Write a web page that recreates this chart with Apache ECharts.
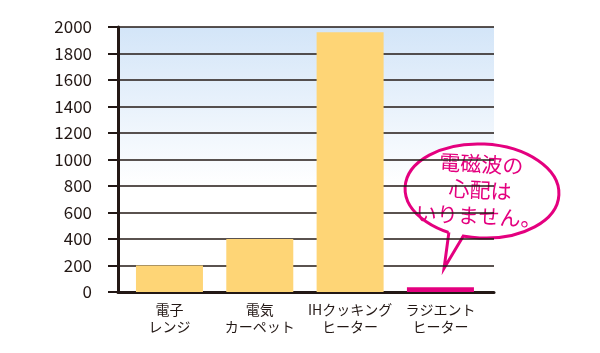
<!DOCTYPE html>
<html>
<head>
<meta charset="utf-8">
<script src="https://cdn.jsdelivr.net/npm/echarts@6/dist/echarts.min.js"></script>
<style>
  html, body { margin: 0; padding: 0; background: #fff; }
  #main { width: 600px; height: 353px; }
</style>
</head>
<body>
<div id="main"></div>
<script>
// データ
var categories = ['電子\nレンジ', '電気\nカーペット', 'IHクッキング\nヒーター', 'ラジエント\nヒーター'];
var values = [200, 400, 1960, 35];
var yTicks = [0, 200, 400, 600, 800, 1000, 1200, 1400, 1600, 1800, 2000];
var bubbleLines = ['電磁波の', '心配は', 'いりません。'];

var ink = '#231815';
var pink = '#e4007f';
var font = '"Noto Sans CJK JP", "Noto Sans", sans-serif';

var myChart = echarts.init(document.getElementById('main'));

var barData = values.map(function (v, i) {
    return {
        value: v,
        itemStyle: { color: i === values.length - 1 ? pink : '#fed576' }
    };
});

var option = {
    animation: false,
    grid: [
        {
            left: 118, right: 106, top: 27, bottom: 61,
            show: true, borderWidth: 0,
            backgroundColor: new echarts.graphic.LinearGradient(0, 0, 0, 1, [
                { offset: 0, color: '#d3e5f8' },
                { offset: 0.6, color: '#ffffff' },
                { offset: 1, color: '#ffffff' }
            ])
        },
        { left: 124.3, right: 114.4, top: 27, bottom: 61 }
    ],
    xAxis: [
        {
            gridIndex: 0, type: 'value', min: 0, max: 1,
            axisLine: { show: true, onZero: false, lineStyle: { color: ink, width: 3 } },
            axisTick: { show: false }, axisLabel: { show: false }, splitLine: { show: false }
        },
        {
            gridIndex: 1, type: 'category', data: categories,
            axisLine: { show: false }, axisTick: { show: false },
            axisLabel: {
                interval: 0, margin: 9, color: ink, fontSize: 14,
                lineHeight: 17, fontFamily: font
            }
        }
    ],
    yAxis: [
        {
            gridIndex: 0, type: 'value', min: yTicks[0], max: yTicks[yTicks.length - 1],
            interval: yTicks[1] - yTicks[0],
            axisLine: { show: true, lineStyle: { color: ink, width: 3 } },
            axisTick: { show: true, length: 10, lineStyle: { color: ink, width: 2 } },
            axisLabel: {
                margin: 26, color: ink, fontSize: 17, fontFamily: font,
                formatter: function (v) { return String(v); }
            },
            splitLine: { show: true, lineStyle: { color: ink, width: 1.6 } }
        },
        {
            gridIndex: 1, type: 'value', min: yTicks[0], max: yTicks[yTicks.length - 1],
            show: false, splitLine: { show: false }
        }
    ],
    series: [
        {
            type: 'bar', xAxisIndex: 1, yAxisIndex: 1,
            barWidth: 67, data: barData
        }
    ],
    graphic: [
        {
            type: 'group',
            x: 482, y: 191, rotation: -0.05,
            children: [
                {
                    type: 'ellipse',
                    shape: { cx: 0, cy: 0, rx: 77, ry: 47 },
                    style: { fill: '#fff', stroke: pink, lineWidth: 3 }
                },
                {
                    type: 'polygon',
                    shape: { points: [[-31, 40], [-34, 79], [-16, 42]] },
                    style: { fill: '#fff' }
                },
                {
                    type: 'polyline',
                    shape: { points: [[-31, 43], [-34, 79], [-16, 45]] },
                    style: { stroke: pink, lineWidth: 3, fill: null }
                },
                {
                    type: 'text',
                    x: -2, y: -1,
                    style: {
                        text: bubbleLines.join('\n'),
                        fill: pink, fontSize: 21, lineHeight: 26,
                        fontFamily: font, align: 'center', verticalAlign: 'middle'
                    }
                }
            ]
        }
    ]
};

myChart.setOption(option);
</script>
</body>
</html>
